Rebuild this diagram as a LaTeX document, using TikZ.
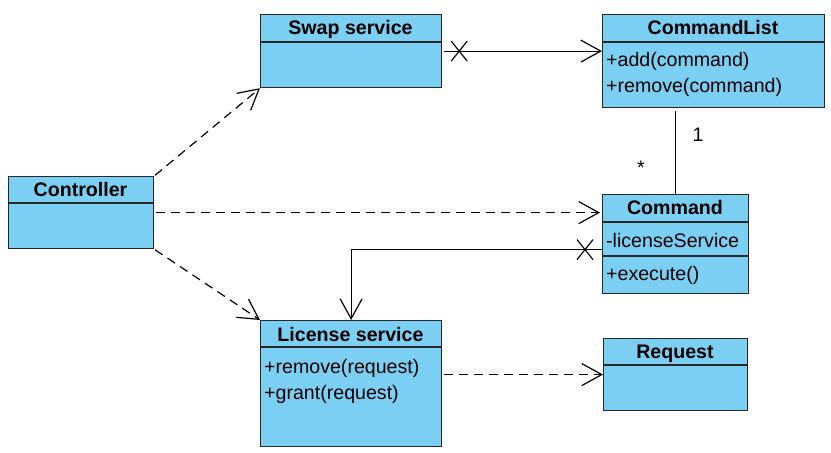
\documentclass[tikz,border=0pt]{standalone}
\usepackage{fontspec}
\setmainfont{Liberation Sans}
\usetikzlibrary{arrows.meta}
\definecolor{clsfill}{RGB}{122,207,243}
\definecolor{clsline}{RGB}{40,40,40}
\begin{document}
\begin{tikzpicture}[x=1pt,y={(0pt,-1pt)},
  cls/.style={draw=clsline,fill=clsfill,line width=1.2pt,inner sep=0pt,anchor=north west,rectangle},
  hdr/.style={anchor=base,inner sep=0pt,font=\fontsize{19.6}{22}\selectfont\bfseries},
  mem/.style={anchor=base west,inner sep=0pt,font=\fontsize{19.6}{22}\selectfont},
  lbl/.style={inner sep=0pt,font=\fontsize{19.6}{22}\selectfont},
  conn/.style={line width=1.2pt,black},
  dep/.style={conn,dash pattern=on 9pt off 6pt,-{Straight Barb[length=20pt,width=22pt,line width=1.2pt]}},
  nav/.style={conn,-{Straight Barb[length=20pt,width=22pt,line width=1.2pt]}},
  divl/.style={draw=clsline,line width=1.2pt}]
\useasboundingbox (0,0) rectangle (831,453);
% class boxes
\node[cls,minimum width=181pt,minimum height=73pt] (swap) at (260,14) {};
\node[cls,minimum width=222pt,minimum height=93pt] (cmdlist) at (602,14) {};
\node[cls,minimum width=145pt,minimum height=72pt] (ctrl) at (8,176) {};
\node[cls,minimum width=146pt,minimum height=99pt] (cmd) at (602,194) {};
\node[cls,minimum width=181pt,minimum height=126pt] (lic) at (260,320) {};
\node[cls,minimum width=144pt,minimum height=72pt] (req) at (603,338) {};
% dividers
\draw[divl] ([yshift=-28pt]swap.north west) -- ([yshift=-28pt]swap.north east);
\draw[divl] ([yshift=-28pt]cmdlist.north west) -- ([yshift=-28pt]cmdlist.north east);
\draw[divl] ([yshift=-27pt]ctrl.north west) -- ([yshift=-27pt]ctrl.north east);
\draw[divl] ([yshift=-28pt]cmd.north west) -- ([yshift=-28pt]cmd.north east);
\draw[divl] ([yshift=-62pt]cmd.north west) -- ([yshift=-62pt]cmd.north east);
\draw[divl] ([yshift=-27pt]lic.north west) -- ([yshift=-27pt]lic.north east);
\draw[divl] ([yshift=-27pt]req.north west) -- ([yshift=-27pt]req.north east);
% texts
\node[hdr] (swapT) at (350.5,34) {Swap service};
\node[hdr] (cmdlistT) at (713,34) {CommandList};
\node[hdr] (ctrlT) at (80.5,196) {Controller};
\node[hdr] (cmdT) at (675,214) {Command};
\node[hdr] (licT) at (350.5,341) {License service};
\node[hdr] (reqT) at (675,358) {Request};
\node[mem] (m1) at (606,66) {+add(command)};
\node[mem] (m2) at (606,92) {+remove(command)};
\node[mem] (m3) at (606,247) {-licenseService};
\node[mem] (m4) at (606,280) {+execute()};
\node[mem] (m5) at (264,373) {+remove(request)};
\node[mem] (m6) at (264,399) {+grant(request)};
% connectors
\draw[nav,shorten <=2pt] (swap.east) -- (swap.east -| cmdlist.west);
\draw[conn,shorten <=3pt] (cmdlist.south -| cmd.north) -- (cmd.north);
\node[lbl] (one) at (698,135) {1};
\node[lbl] (star) at (641,168) {*};
\draw[nav] ([yshift=-5.5pt]cmd.west) -| (lic.north);
\draw[dep,shorten <=1pt] (ctrl.north east) -- (swap.south west);
\draw[dep,shorten <=2pt,shorten >=2pt] (ctrl.east) -- (ctrl.east -| cmd.west);
\draw[dep,shorten <=1pt] (ctrl.south east) -- (lic.north west);
\draw[dep,shorten <=2pt] (lic.east |- req.west) -- (req.west);
% navigability crosses
\coordinate (x1) at ([xshift=17pt]swap.east);
\draw[conn] ([shift={(-8pt,-10pt)}]x1) -- ([shift={(8pt,10pt)}]x1);
\draw[conn] ([shift={(-8pt,10pt)}]x1) -- ([shift={(8pt,-10pt)}]x1);
\coordinate (x2) at ([shift={(-17pt,-5.5pt)}]cmd.west);
\draw[conn] ([shift={(-8pt,-10pt)}]x2) -- ([shift={(8pt,10pt)}]x2);
\draw[conn] ([shift={(-8pt,10pt)}]x2) -- ([shift={(8pt,-10pt)}]x2);
\end{tikzpicture}
\end{document}
